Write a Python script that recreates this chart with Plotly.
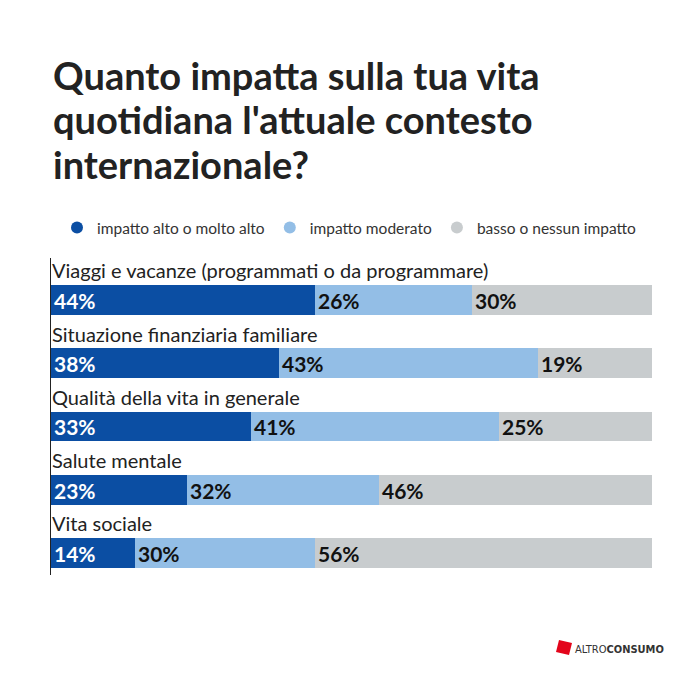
import plotly.graph_objects as go

categories = [
    "Viaggi e vacanze (programmati o da programmare)",
    "Situazione finanziaria familiare",
    "Qualità della vita in generale",
    "Salute mentale",
    "Vita sociale",
]
# bar lengths (unrounded shares)
alto = [43.9, 38.0, 33.2, 22.7, 14.0]
moderato = [26.1, 43.0, 41.4, 31.8, 29.9]
basso = [30.0, 19.0, 25.4, 45.5, 56.1]
# printed labels
alto_lbl = ["44%", "38%", "33%", "23%", "14%"]
moderato_lbl = ["26%", "43%", "41%", "32%", "30%"]
basso_lbl = ["30%", "19%", "25%", "46%", "56%"]
series_names = ["impatto alto o molto alto", "impatto moderato", "basso o nessun impatto"]
title_lines = ["Quanto impatta sulla tua vita", "quotidiana l'attuale contesto", "internazionale?"]
colors = ["#0b4ea3", "#93bee6", "#c8ccce"]
text_colors = ["white", "#111111", "#111111"]

W, H = 696, 677
OFF = 8  # page body margin
L, R, T, B = 43, 52, 250, 110  # plot area (figure px)
pw, ph = W - L - R, H - T - B


def px2paper(x, y):
    """screen px -> paper coords"""
    return (x - OFF - L) / pw, (H - B - (y - OFF)) / ph


ypos = list(range(len(categories)))

fig = go.Figure()
for name, vals, lbls, col, tc in zip(series_names, [alto, moderato, basso],
                                     [alto_lbl, moderato_lbl, basso_lbl], colors, text_colors):
    fig.add_trace(go.Bar(
        y=ypos, x=vals, orientation="h", name=name,
        marker=dict(color=col, line=dict(width=0)),
        width=0.474,
        text=lbls, textposition="inside",
        insidetextanchor="start", constraintext="none",
        textfont=dict(family="Lato", size=21, color=tc, weight="bold"),
        showlegend=False, hoverinfo="skip",
    ))
    fig.add_trace(go.Scatter(
        x=[None], y=[None], mode="markers", name=name,
        marker=dict(symbol="circle", size=16, color=col),
        showlegend=True,
    ))

for i, c in enumerate(categories):
    fig.add_annotation(x=0, y=i - 0.47, xref="x", yref="y", text=c,
                       showarrow=False, xanchor="left", yanchor="middle", xshift=-1,
                       font=dict(family="Lato", size=20, color="#222222"))

# title lines
for k, (line, base) in enumerate(zip(title_lines, [90, 134, 179])):
    tx, ty = px2paper(51, base - 14.7)
    fig.add_annotation(x=tx, y=ty, xref="paper", yref="paper", text=line,
                       showarrow=False, xanchor="left", yanchor="middle",
                       font=dict(family="Lato", size=38, color="#222222", weight="bold"))

# logo
pts = [px2paper(559, 640), px2paper(572, 643), px2paper(569, 655), px2paper(556, 652)]
path = "M " + " L ".join(f"{a},{b}" for a, b in pts) + " Z"
fig.add_shape(type="path", path=path, xref="paper", yref="paper",
              fillcolor="#e3051b", line=dict(width=0))
lx, ly = px2paper(573, 649)
fig.add_annotation(x=lx, y=ly, xref="paper", yref="paper", showarrow=False,
                   xanchor="left", yanchor="middle",
                   text="ALTRO<b>CONSUMO</b>",
                   font=dict(family="DejaVu Sans Condensed, Roboto Condensed, Lato", size=11, color="#333333"))

lgx, lgy = px2paper(57, 228)
fig.update_layout(
    width=W, height=H,
    margin=dict(l=L, r=R, t=T, b=B),
    paper_bgcolor="white", plot_bgcolor="white",
    barmode="stack", bargap=0,
    legend=dict(orientation="h", x=lgx, xanchor="left", y=lgy,
                yanchor="middle", font=dict(family="Lato", size=15.5, color="#333333"),
                itemsizing="constant", traceorder="normal", bgcolor="rgba(0,0,0,0)"),
    xaxis=dict(range=[0, 100], visible=False, fixedrange=True),
    yaxis=dict(range=[4.348, -0.664], showticklabels=False, showgrid=False, zeroline=False,
               showline=True, linecolor="#222222", linewidth=1, ticks=""),
    font=dict(family="Lato"),
)

fig.write_html("out.html")
